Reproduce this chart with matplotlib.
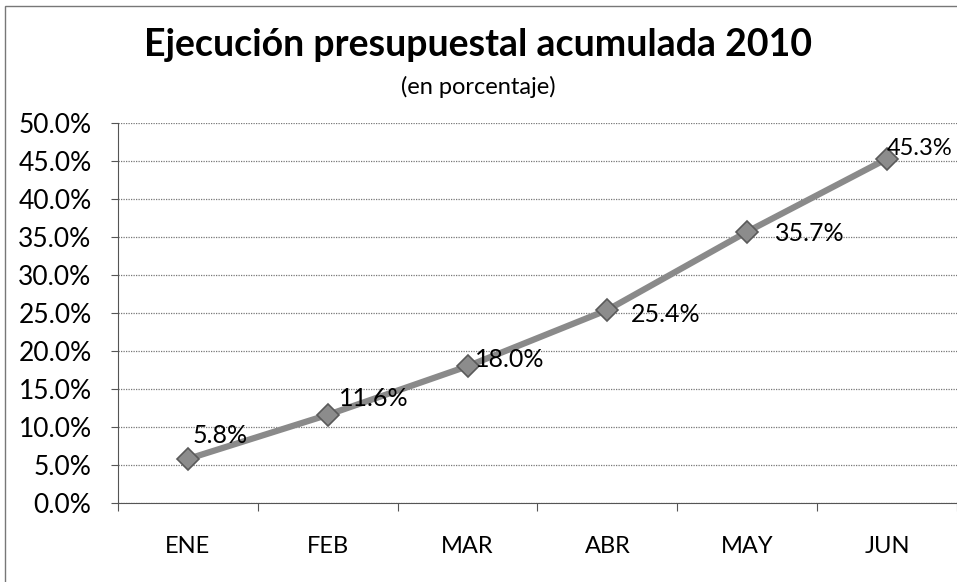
import matplotlib
matplotlib.use('Agg')
import matplotlib.pyplot as plt
from matplotlib.ticker import FuncFormatter, FixedLocator
from matplotlib.patches import Rectangle

months = ['ENE', 'FEB', 'MAR', 'ABR', 'MAY', 'JUN']
execution = [5.8, 11.6, 18.0, 25.4, 35.7, 45.3]
# label offsets in points (dx, dy) relative to each marker
label_offsets = [(3, 17), (8, 12), (5, 5), (17, -3), (20, -1), (0, 7)]

plt.rcParams['font.family'] = ['Lato', 'DejaVu Sans']

fig = plt.figure(figsize=(9.57, 5.82), dpi=100)
ax = fig.add_axes([0.1233, 0.1357, 0.8767, 0.653])

x = [i + 0.5 for i in range(len(months))]
ax.plot(x, execution, color='#8a8a8a', linewidth=4.5, marker='D', markersize=11,
        markerfacecolor='#8c8c8c', markeredgecolor='#5a5a5a', markeredgewidth=1.2,
        zorder=3)

for xi, v, (dx, dy) in zip(x, execution, label_offsets):
    ax.annotate(f'{v:.1f}%', (xi, v), xytext=(dx, dy), textcoords='offset points',
                ha='left', va='center', fontsize=18 if v < 45 else 17, color='black',
                zorder=4, annotation_clip=False)

ax.set_xlim(0, 6)
ax.set_ylim(0, 50)
ax.set_yticks(range(0, 51, 5))
ax.yaxis.set_major_formatter(FuncFormatter(lambda v, p: f'{v:.1f}%'))
ax.grid(axis='y', linestyle=(0, (1, 1)), color='#777777', linewidth=0.9)
ax.set_axisbelow(True)

ax.xaxis.set_major_locator(FixedLocator(range(0, 7)))
ax.xaxis.set_minor_locator(FixedLocator(x))
ax.set_xticklabels([])
ax.set_xticklabels(months, minor=True)
ax.tick_params(axis='x', which='minor', length=0, pad=24, labelsize=17)
ax.tick_params(axis='x', which='major', length=6, direction='out', color='#555555')
ax.tick_params(axis='y', length=5, direction='out', labelsize=19, color='#555555', pad=14)

for side in ['top', 'right']:
    ax.spines[side].set_visible(False)
ax.spines['left'].set_color('#555555')
ax.spines['bottom'].set_color('#555555')

fig.text(0.5, 0.923, 'Ejecución presupuestal acumulada 2010', ha='center', va='center',
         fontsize=27, fontweight='bold')
fig.text(0.5, 0.85, '(en porcentaje)', ha='center', va='center', fontsize=17)

fig.patches.append(Rectangle((0.005, -0.01), 1.0, 1.0, transform=fig.transFigure,
                             fill=False, edgecolor='#777777', linewidth=1))

fig.savefig('out.png', dpi=100)
